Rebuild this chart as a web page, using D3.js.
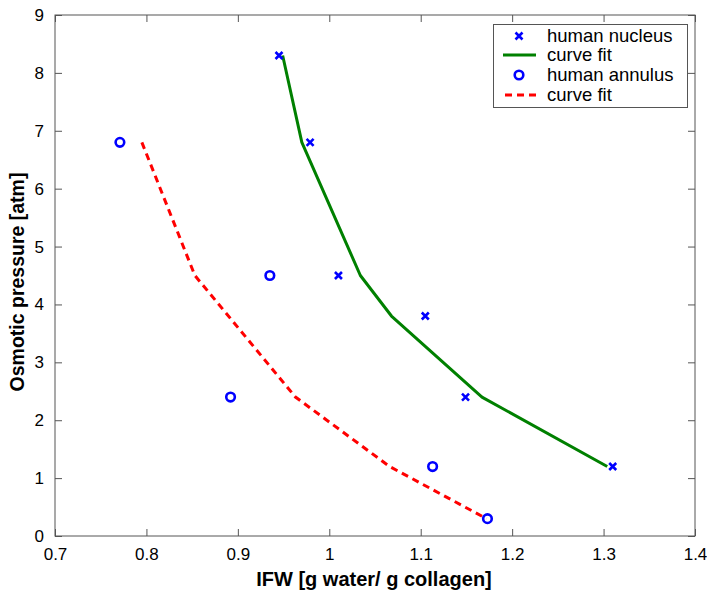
<!DOCTYPE html>
<html><head><meta charset="utf-8">
<script src="https://cdn.jsdelivr.net/npm/d3@7"></script>
<style>body{margin:0;background:#fff;} svg{display:block;}</style>
</head><body>
<script>
// Data
const nucleusX = [0.945, 0.979, 1.010, 1.105, 1.149, 1.310];
const nucleusY = [8.3, 6.8, 4.5, 3.8, 2.4, 1.2];
const nucleusFitX = [0.949, 0.970, 1.034, 1.068, 1.167, 1.304];
const nucleusFitY = [8.3, 6.8, 4.5, 3.8, 2.4, 1.2];
const annulusX = [0.771, 0.935, 0.892, 1.113, 1.173];
const annulusY = [6.8, 4.5, 2.4, 1.2, 0.3];
const annulusFitX = [0.795, 0.853, 0.963, 1.066, 1.172];
const annulusFitY = [6.8, 4.5, 2.4, 1.2, 0.3];
const xTicks = [0.7, 0.8, 0.9, 1, 1.1, 1.2, 1.3, 1.4];
const yTicks = [0, 1, 2, 3, 4, 5, 6, 7, 8, 9];
const legendLabels = ["human nucleus", "curve fit", "human annulus", "curve fit"];

const W = 707, H = 596;
const L = 55, R = 695, T = 15, B = 536;
const svg = d3.select("body").append("svg").attr("width", W).attr("height", H);
const x = d3.scaleLinear().domain([0.7, 1.4]).range([L, R]);
const y = d3.scaleLinear().domain([0, 9]).range([B, T]);
const font = "Liberation Sans, Arial, sans-serif";
const axisColor = "#555";

// axes box
svg.append("rect").attr("x", L).attr("y", T).attr("width", R - L).attr("height", B - T)
  .attr("fill", "none").attr("stroke", axisColor).attr("stroke-width", 1);

const tl = 7;
const xAxisB = d3.axisBottom(x).tickValues(xTicks).tickSizeInner(-tl).tickSizeOuter(0)
  .tickFormat(d => String(d)).tickPadding(12);
const gxb = svg.append("g").attr("transform", `translate(0,${B})`).call(xAxisB);
const gxt = svg.append("g").attr("transform", `translate(0,${T})`)
  .call(d3.axisTop(x).tickValues(xTicks).tickSizeInner(-tl).tickSizeOuter(0).tickFormat(""));
const yAxisL = d3.axisLeft(y).tickValues(yTicks).tickSizeInner(-tl).tickSizeOuter(0)
  .tickFormat(d => String(d)).tickPadding(11);
const gyl = svg.append("g").attr("transform", `translate(${L},0)`).call(yAxisL);
const gyr = svg.append("g").attr("transform", `translate(${R},0)`)
  .call(d3.axisRight(y).tickValues(yTicks).tickSizeInner(-tl).tickSizeOuter(0).tickFormat(""));
[gxb, gxt, gyl, gyr].forEach(g => {
  g.select(".domain").remove();
  g.selectAll("line").attr("stroke", axisColor);
  g.selectAll("text").attr("font-family", font).attr("font-size", 17).attr("fill", "#000");
});
gxb.selectAll("text").attr("dy", "0.71em");

// titles
svg.append("text").attr("x", 374).attr("y", 586).attr("text-anchor", "middle")
  .attr("font-family", font).attr("font-weight", "bold").attr("font-size", 20)
  .text("IFW [g water/ g collagen]");
svg.append("text").attr("transform", "translate(24,282) rotate(-90)").attr("text-anchor", "middle")
  .attr("font-family", font).attr("font-weight", "bold").attr("font-size", 19.5)
  .text("Osmotic pressure [atm]");

const line = d3.line().x(d => x(d[0])).y(d => y(d[1]));
const nFit = nucleusFitX.map((v, i) => [v, nucleusFitY[i]]);
const aFit = annulusFitX.map((v, i) => [v, annulusFitY[i]]);
svg.append("path").attr("d", line(nFit)).attr("fill", "none").attr("stroke", "#008000")
  .attr("stroke-width", 3).attr("stroke-linejoin", "round");
svg.append("path").attr("d", line(aFit)).attr("fill", "none").attr("stroke", "#ff0000")
  .attr("stroke-width", 3).attr("stroke-dasharray", "7,5");

function xMark(g, cx, cy) {
  const s = 3.5;
  g.append("path").attr("d", `M${cx - s},${cy - s}L${cx + s},${cy + s}M${cx - s},${cy + s}L${cx + s},${cy - s}`)
    .attr("stroke", "#0000ff").attr("stroke-width", 2.6).attr("fill", "none");
}
const gm = svg.append("g");
nucleusX.forEach((v, i) => xMark(gm, x(v), y(nucleusY[i])));
svg.append("g").selectAll("circle").data(annulusX.map((v, i) => [v, annulusY[i]])).join("circle")
  .attr("cx", d => x(d[0])).attr("cy", d => y(d[1])).attr("r", 4.3)
  .attr("fill", "none").attr("stroke", "#0000ff").attr("stroke-width", 2.6);

// legend
const lg = svg.append("g");
lg.append("rect").attr("x", 493.5).attr("y", 24.5).attr("width", 194).attr("height", 83)
  .attr("fill", "#fff").attr("stroke", axisColor).attr("stroke-width", 1);
const rows = [36, 55, 75, 95];
xMark(lg, 519, rows[0]);
lg.append("line").attr("x1", 503).attr("x2", 536).attr("y1", rows[1]).attr("y2", rows[1])
  .attr("stroke", "#008000").attr("stroke-width", 3);
lg.append("circle").attr("cx", 519).attr("cy", rows[2]).attr("r", 4.3)
  .attr("fill", "none").attr("stroke", "#0000ff").attr("stroke-width", 2.6);
lg.append("line").attr("x1", 505).attr("x2", 536).attr("y1", rows[3]).attr("y2", rows[3])
  .attr("stroke", "#ff0000").attr("stroke-width", 3).attr("stroke-dasharray", "7,5");
legendLabels.forEach((t, i) => {
  lg.append("text").attr("x", 547).attr("y", rows[i]).attr("dy", "0.35em")
    .attr("font-family", font).attr("font-size", 18.5).text(t);
});
</script>
</body></html>
